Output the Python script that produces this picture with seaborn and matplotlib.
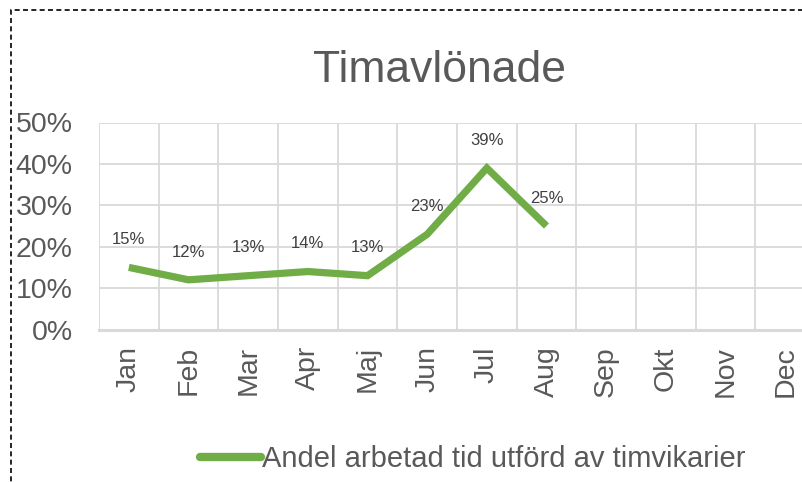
import matplotlib
matplotlib.use("Agg")
import matplotlib.pyplot as plt
import matplotlib.patches as patches
from matplotlib.lines import Line2D
import seaborn as sns
import numpy as np
import pandas as pd

months = ["Jan", "Feb", "Mar", "Apr", "Maj", "Jun", "Jul", "Aug", "Sep", "Okt", "Nov", "Dec"]
values = [0.15, 0.12, 0.13, 0.14, 0.13, 0.23, 0.39, 0.25, np.nan, np.nan, np.nan, np.nan]
y_ticks = [0.0, 0.1, 0.2, 0.3, 0.4, 0.5]
series_name = "Andel arbetad tid utförd av timvikarier"
title = "Timavlönade"

sns.set_theme(style="white")
plt.rcParams["font.family"] = ["Liberation Sans", "DejaVu Sans"]

GREEN = "#70AD47"
GRID = "#D9D9D9"
TXT = "#595959"

W, H = 803, 482
fig = plt.figure(figsize=(W / 100, H / 100), dpi=100)
left, right = 99, 815
top, bottom = 122.5, 329.5
ax = fig.add_axes([left / W, 1 - bottom / H, (right - left) / W, (bottom - top) / H])

df = pd.DataFrame({"pos": np.arange(len(months)), "month": months, "value": values})
df_valid = df.dropna()
sns.lineplot(data=df_valid, x="pos", y="value", ax=ax, color=GREEN, linewidth=5.2,
             sort=False, label=series_name, legend=False)
for line in ax.lines:
    line.set_solid_joinstyle("miter")
    line.set_solid_capstyle("butt")

ax.set_xlim(-0.5, len(months) - 0.5)
ax.set_ylim(0, 0.5)
ax.set_xlabel("")
ax.set_ylabel("")

ax.set_xticks(np.arange(len(months)))
ax.set_xticklabels(months, rotation=90, fontsize=20.5, color=TXT, va="top", ha="center")
ax.set_xticks(np.arange(-0.5, len(months)), minor=True)
ax.tick_params(axis="x", which="major", length=0, pad=12)
ax.tick_params(axis="x", which="minor", length=0)
ax.grid(False)
ax.grid(True, axis="x", which="minor", color=GRID, linewidth=1.3)
ax.set_yticks(y_ticks)
ax.set_yticklabels([f"{int(round(v * 100))}%" for v in y_ticks], fontsize=20.5, color=TXT)
ax.tick_params(axis="y", length=0, pad=19)
ax.grid(True, axis="y", which="major", color=GRID, linewidth=1.3)

for s in ["top", "right", "left"]:
    ax.spines[s].set_visible(False)
ax.spines["bottom"].set_color(GRID)
ax.spines["bottom"].set_linewidth(2.2)
ax.set_axisbelow(True)

for _, r in df_valid.iterrows():
    ax.annotate(f"{int(round(r['value'] * 100))}%", (r["pos"], r["value"]),
                xytext=(0, 20), textcoords="offset points", ha="center", va="center",
                fontsize=12, color="#404040")

fig.text(440 / W, 1 - 82 / H, title, ha="center", va="baseline", fontsize=32, color=TXT)

h = Line2D([0], [0], color=GREEN, linewidth=6, solid_capstyle="round")
fig.legend([h], [series_name], loc="center left", bbox_to_anchor=(200 / W, 1 - 459 / H),
           frameon=False, fontsize=21, handlelength=2.1, handletextpad=0.03,
           borderpad=0, borderaxespad=0, labelcolor=TXT)

border = patches.Rectangle((11 / W, -0.2), 1.2, 1.2 - 10 / H, transform=fig.transFigure,
                           fill=False, edgecolor="black", linewidth=1.2,
                           linestyle=(0, (3, 2)), clip_on=False)
fig.patches.append(border)

fig.savefig("out.png", dpi=100)
